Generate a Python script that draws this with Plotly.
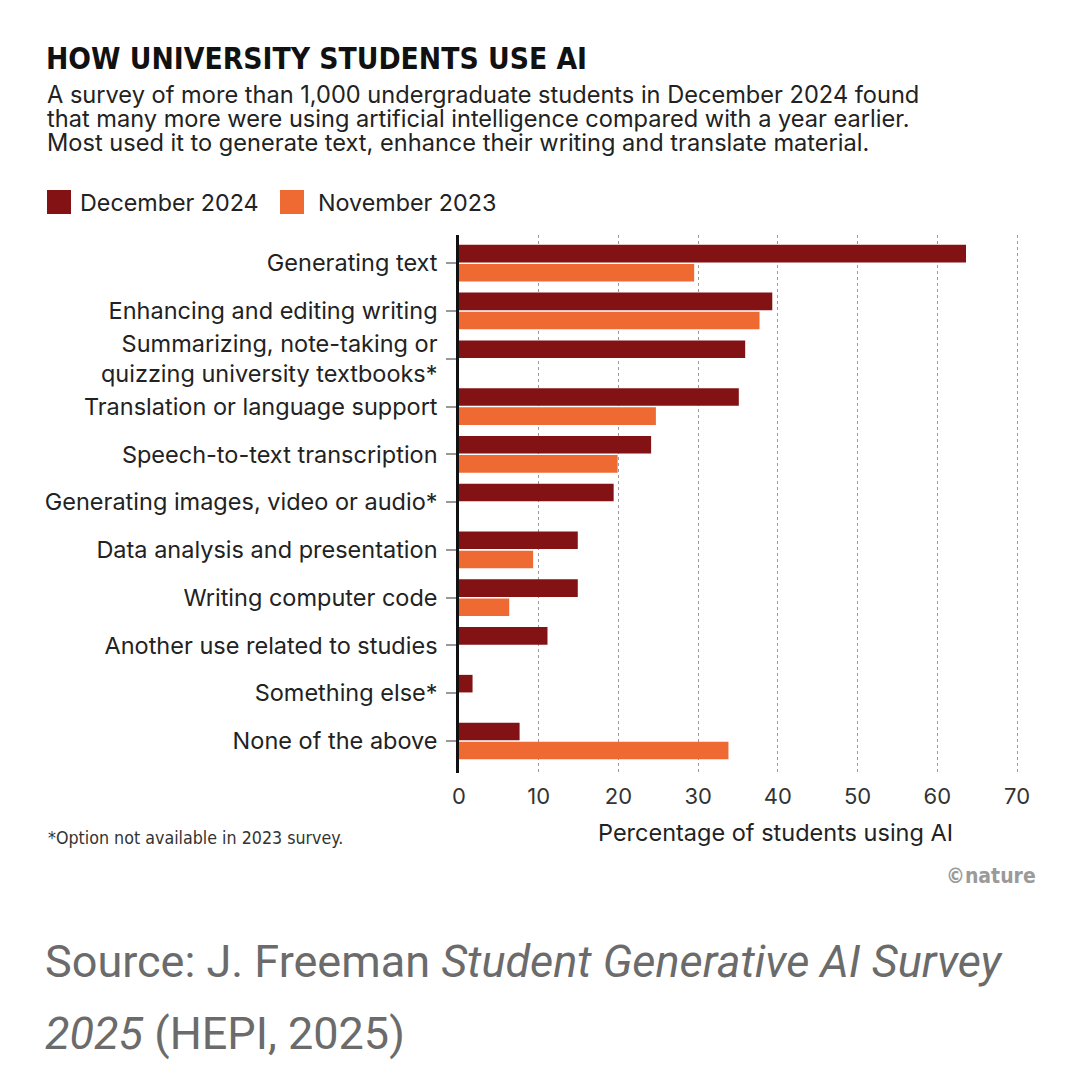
import plotly.graph_objects as go

categories = [
    "Generating text",
    "Enhancing and editing writing",
    "Summarizing, note-taking or<br>quizzing university textbooks*",
    "Translation or language support",
    "Speech-to-text transcription",
    "Generating images, video or audio*",
    "Data analysis and presentation",
    "Writing computer code",
    "Another use related to studies",
    "Something else*",
    "None of the above",
]
dec_2024 = [63.6, 39.3, 35.9, 35.1, 24.1, 19.4, 14.9, 14.9, 11.1, 1.7, 7.6]
nov_2023 = [29.5, 37.7, None, 24.7, 19.9, None, 9.3, 6.3, None, None, 33.8]
series_names = ["December 2024", "November 2023"]
x_ticks = [0, 10, 20, 30, 40, 50, 60, 70]

DEC_COLOR = "#831214"
NOV_COLOR = "#EF6A32"
FONT = "Inter, Open Sans, sans-serif"
NARROW = "Liberation Sans Narrow, DejaVu Sans Condensed, Roboto, sans-serif"

W_FIG, H_FIG = 1080, 1081
L, R, T, B = 459, 1025, 235, 773


def px(x):
    return (x - L) / (R - L)


def py(y):
    return (B - y) / (B - T)


def note(text, x, y, xanchor, size, family=FONT, color="#222"):
    return dict(text=text, xref="paper", yref="paper", x=px(x), y=py(y), xanchor=xanchor,
                yanchor="middle", showarrow=False, font=dict(family=family, size=size, color=color))


fig = go.Figure()
fig.add_trace(go.Bar(y=categories, x=dec_2024, orientation="h", name=series_names[0],
                     marker=dict(color=DEC_COLOR, line=dict(width=0)), showlegend=False))
fig.add_trace(go.Bar(y=categories, x=nov_2023, orientation="h", name=series_names[1],
                     marker=dict(color=NOV_COLOR, line=dict(width=0)), showlegend=False))

ann = []
shapes = []
ann.append(note("<b>HOW UNIVERSITY STUDENTS USE AI</b>", 44, 58, "left", 29.7, NARROW, "#111"))
subtitle = [
    "A survey of more than 1,000 undergraduate students in December 2024 found",
    "that many more were using artificial intelligence compared with a year earlier.",
    "Most used it to generate text, enhance their writing and translate material.",
]
for i, line in enumerate(subtitle):
    ann.append(note(line, 45, 94 + 24.5 * i, "left", 23.6))
legend_items = [(47, 78, DEC_COLOR, series_names[0]), (280, 316, NOV_COLOR, series_names[1])]
for sx, tx, col, name in legend_items:
    shapes.append(dict(type="rect", xref="paper", yref="paper", x0=px(sx), x1=px(sx + 24),
                       y0=py(214), y1=py(190), fillcolor=col, line=dict(width=0)))
    ann.append(note(name, tx, 202, "left", 23.3))
ann.append(note("Percentage of students using AI", 775, 832, "center", 23.5))
ann.append(note("*Option not available in 2023 survey.", 46, 838, "left", 17.7, NARROW, "#333"))
ann.append(note("<b>©nature</b>", 1038, 876, "right", 21, NARROW, "#9a9a9a"))
ann.append(note("Source: J. Freeman <i>Student Generative AI Survey</i>", 43, 961, "left", 45,
                "Roboto, sans-serif", "#6b6b6b"))
ann.append(note("<i>2025</i> (HEPI, 2025)", 43, 1033, "left", 45, "Roboto, sans-serif", "#6b6b6b"))

fig.update_layout(
    width=W_FIG, height=H_FIG,
    margin=dict(l=L, r=W_FIG - R, t=T, b=H_FIG - B, pad=0),
    paper_bgcolor="white", plot_bgcolor="white",
    barmode="group", bargap=0.2, bargroupgap=0.08,
    annotations=ann, shapes=shapes, showlegend=False,
    xaxis=dict(range=[0, 71], tickvals=x_ticks, showgrid=True, gridcolor="#9a9a9a",
               griddash="dot", gridwidth=1, zeroline=False, showline=False, ticks="",
               ticklabelstandoff=8,
               tickfont=dict(family=FONT, size=22, color="#333"), fixedrange=True),
    yaxis=dict(type="category", categoryorder="array", categoryarray=categories,
               range=[10.67, -0.59], showline=True, linecolor="#111", linewidth=2.5,
               ticks="outside", ticklen=10, tickcolor="#999", tickwidth=1.5,
               ticklabelstandoff=4, showgrid=False, zeroline=False,
               tickfont=dict(family=FONT, size=23.5, color="#222"), fixedrange=True),
)

fig.write_html("out.html")
